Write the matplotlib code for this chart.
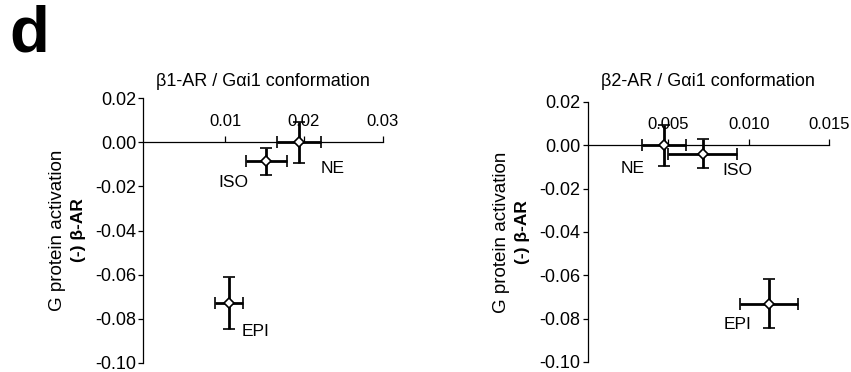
import matplotlib
matplotlib.use("Agg")
import matplotlib.pyplot as plt

plt.rcParams["font.family"] = ["Liberation Sans", "DejaVu Sans"]

# panel data: ligand, x (conformation), y (G protein activation), errors
ligands = ["NE", "ISO", "EPI"]

b1_x = [0.0194, 0.0152, 0.0105]
b1_y = [0.0, -0.0086, -0.0730]
b1_xerr = [0.0028, 0.0026, 0.0018]
b1_yerr = [0.0093, 0.0061, 0.0118]
b1_label_pos = [(0.0221, -0.0120, "left"), (0.0111, -0.0182, "center"), (0.0121, -0.0859, "left")]

b2_x = [0.00472, 0.00714, 0.01127]
b2_y = [0.0, -0.0038, -0.0730]
b2_xerr = [0.00136, 0.00214, 0.0018]
b2_yerr = [0.0095, 0.0066, 0.0115]
b2_label_pos = [(0.00283, -0.0108, "center"), (0.00928, -0.0118, "center"), (0.00928, -0.0829, "center")]

yticks = [0.02, 0.00, -0.02, -0.04, -0.06, -0.08, -0.10]
b1_xticks = [0.01, 0.02, 0.03]
b1_xticklabels = ["0.01", "0.02", "0.03"]
b2_xticks = [0.005, 0.010, 0.015]
b2_xticklabels = ["0.005", "0.010", "0.015"]

W, H = 851, 372
fig = plt.figure(figsize=(W / 100, H / 100), dpi=100)


def make_panel(rect, xs, ys, xerr, yerr, label_pos, xlim, xticks, xticklabels, title):
    ax = fig.add_axes(rect)
    ax.errorbar(xs, ys, xerr=xerr, yerr=yerr, fmt="D", color="black",
                mfc="white", mec="black", ms=5, mew=1.2,
                elinewidth=2.0, capsize=4, capthick=2.0, zorder=3)
    for name, (tx, ty, ha) in zip(ligands, label_pos):
        ax.text(tx, ty, name, fontsize=12.5, ha=ha, va="center")

    ax.set_xlim(*xlim)
    ax.set_ylim(-0.10, 0.02)
    ax.set_yticks(yticks)
    ax.set_yticklabels([f"{v:.2f}" for v in yticks])
    ax.set_xticks(xticks)
    ax.set_xticklabels(xticklabels)

    ax.spines["top"].set_position(("data", 0))
    ax.spines["bottom"].set_visible(False)
    ax.spines["right"].set_visible(False)
    for s in ("top", "left"):
        ax.spines[s].set_linewidth(0.9)
    ax.xaxis.tick_top()
    ax.tick_params(axis="x", direction="out", length=4.5, width=0.9,
                   labelsize=12, pad=5)
    ax.tick_params(axis="y", direction="out", length=3.5, width=0.9,
                   labelsize=13, pad=1.5)

    # two-line y label, second line bold
    ax.text(-86 / (rect[2] * W), 0.5, "G protein activation", transform=ax.transAxes,
            rotation=90, ha="center", va="center", fontsize=13.5)
    ax.text(-65 / (rect[2] * W), 0.5, "(-) β-AR", transform=ax.transAxes,
            rotation=90, ha="center", va="center", fontsize=12.5, fontweight="bold")

    fig.text(rect[0] + rect[2] / 2, 1 - 82 / H, title, ha="center", va="center",
             fontsize=13)
    return ax


make_panel([143 / W, 1 - 362.7 / H, 239.7 / W, 264.4 / H],
           b1_x, b1_y, b1_xerr, b1_yerr, b1_label_pos, (-0.0004, 0.03),
           b1_xticks, b1_xticklabels, "β1-AR / Gαi1 conformation")
make_panel([587.5 / W, 1 - 362 / H, 241.8 / W, 260 / H],
           b2_x, b2_y, b2_xerr, b2_yerr, b2_label_pos, (0.0, 0.015),
           b2_xticks, b2_xticklabels, "β2-AR / Gαi1 conformation")

fig.text(9 / W, 1 - 35 / H, "d", fontsize=47, fontweight="bold", ha="left", va="center")

fig.savefig("out.png", dpi=100)
